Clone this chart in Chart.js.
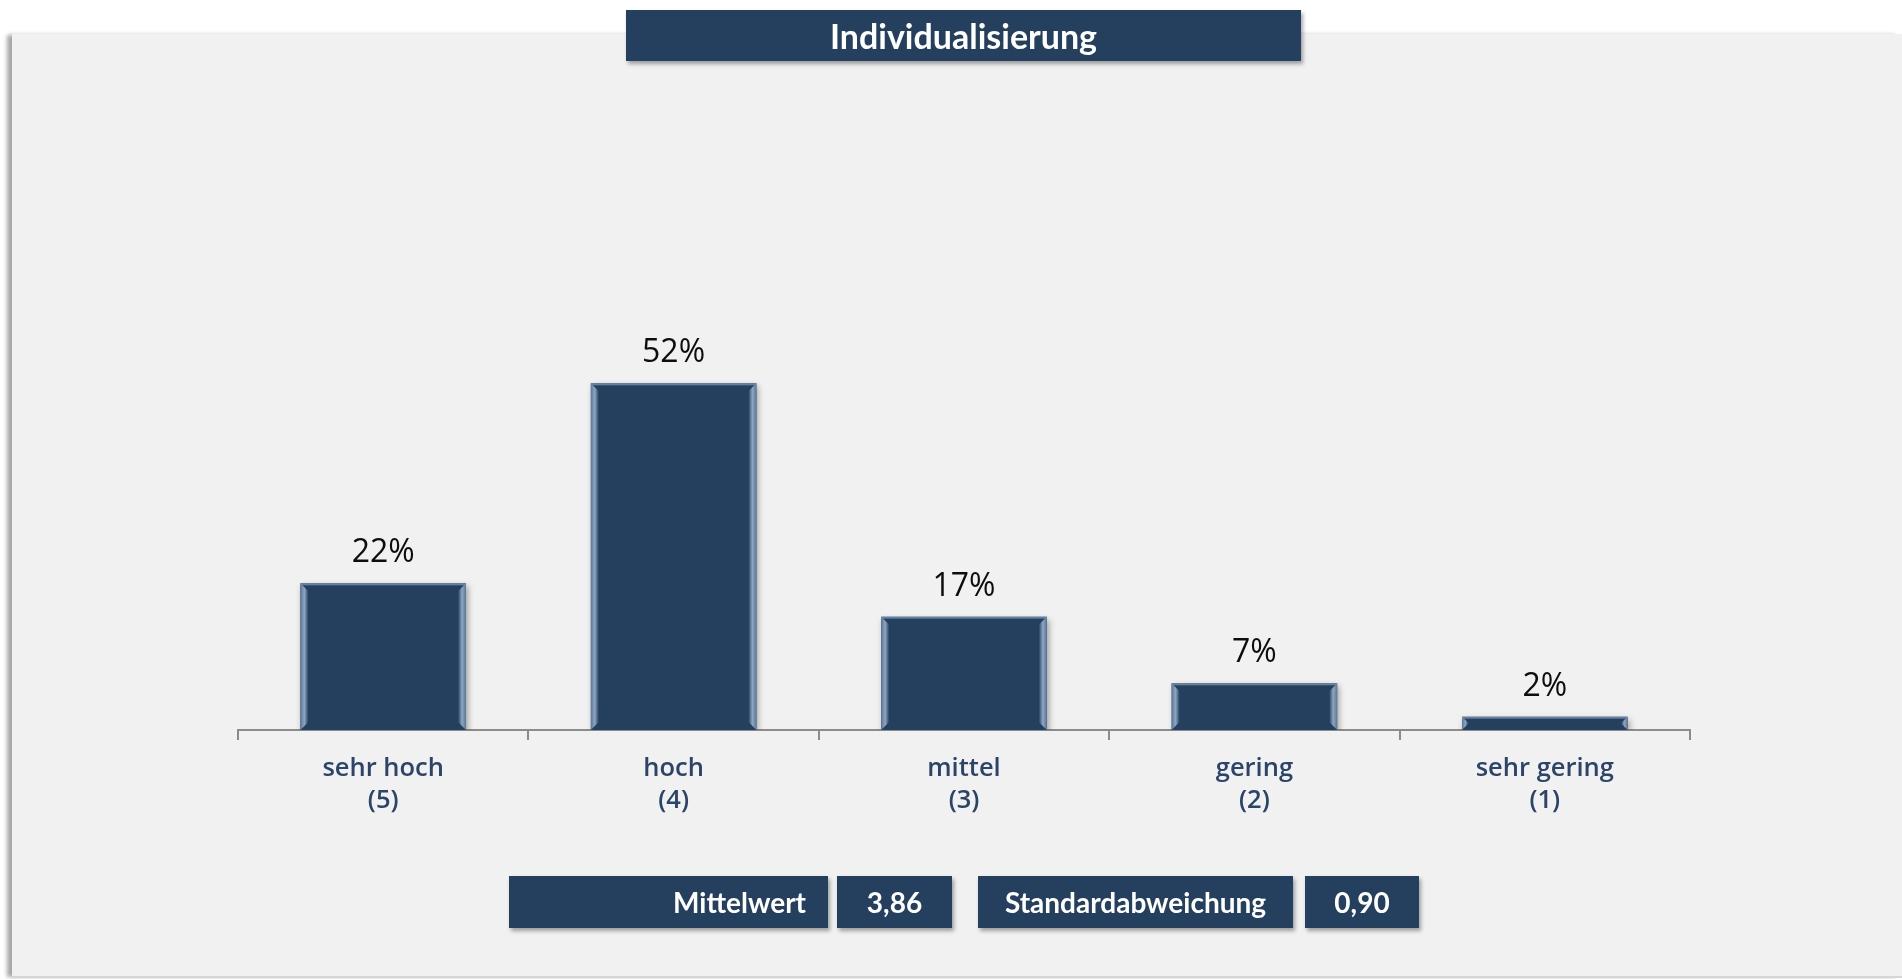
<!DOCTYPE html>
<html lang="de">
<head>
<meta charset="utf-8">
<title>Individualisierung</title>
<script src="https://cdn.jsdelivr.net/npm/chart.js@4"></script>
<style>
  html, body { margin: 0; padding: 0; background: #fff; width: 1902px; height: 979px; overflow: hidden; font-family: Lato, "Open Sans", sans-serif; }
  .panel {
    position: absolute; left: 12px; top: 34px; right: 0; height: 942px;
    background: #f1f1f1;
    border-bottom: 2px solid #d6d6d6;
    box-shadow: -6px 0 4px -1px #a8a8a8;
  }
  #chart { position: absolute; left: 0; top: 0; }
  .box {
    position: absolute; background: #253f5f; color: #fff;
    font-weight: bold; font-size: 28px; line-height: 52px; height: 52px;
    box-shadow: 2px 3px 4px rgba(0,0,0,0.35);
    box-sizing: border-box;
  }
  .title { left: 626px; top: 10px; width: 675px; height: 51px; line-height: 51px; text-align: center; font-size: 34px; }
</style>
</head>
<body>
<div class="panel"></div>
<canvas id="chart" width="1902" height="979"></canvas>
<div class="box title">Individualisierung</div>
<div class="box" style="left:509px;top:876px;width:319px;text-align:right;padding-right:22px;">Mittelwert</div>
<div class="box" style="left:837px;top:876px;width:115px;text-align:center;">3,86</div>
<div class="box" style="left:978px;top:876px;width:315px;text-align:center;">Standardabweichung</div>
<div class="box" style="left:1305px;top:876px;width:114px;text-align:center;">0,90</div>

<script>
// Answer distribution for "Individualisierung"
const categories = [
  ['sehr hoch', '(5)'],
  ['hoch', '(4)'],
  ['mittel', '(3)'],
  ['gering', '(2)'],
  ['sehr gering', '(1)']
];
const shares = [22, 52, 17, 7, 2];

const navy = '#253f5f';

// soft shadow under the bars
const barShadow = {
  id: 'barShadow',
  beforeDatasetDraw(chart) {
    const ctx = chart.ctx;
    ctx.save();
    ctx.shadowColor = 'rgba(0,0,0,0.35)';
    ctx.shadowBlur = 6;
    ctx.shadowOffsetX = 2;
    ctx.shadowOffsetY = 3;
  },
  afterDatasetDraw(chart) {
    chart.ctx.restore();
  }
};

// light bevel strips on both sides of each bar + value labels
const barDecor = {
  id: 'barDecor',
  afterDatasetsDraw(chart) {
    const ctx = chart.ctx;
    const meta = chart.getDatasetMeta(0);
    meta.data.forEach((bar, i) => {
      const left = bar.x - bar.width / 2;
      const right = bar.x + bar.width / 2;
      const top = bar.y;
      const bottom = bar.base;
      const h = bottom - top;
      const b = Math.min(8, h / 2);

      const gl = ctx.createLinearGradient(left, 0, left + b, 0);
      gl.addColorStop(0, '#5d7797');
      gl.addColorStop(0.5, '#8ea6c4');
      gl.addColorStop(1, navy);
      ctx.fillStyle = gl;
      ctx.beginPath();
      ctx.moveTo(left, top);
      ctx.lineTo(left + b, top + b);
      ctx.lineTo(left + b, bottom - b);
      ctx.lineTo(left, bottom);
      ctx.closePath();
      ctx.fill();

      const gr = ctx.createLinearGradient(right - b, 0, right, 0);
      gr.addColorStop(0, navy);
      gr.addColorStop(0.5, '#8ea6c4');
      gr.addColorStop(1, '#5d7797');
      ctx.fillStyle = gr;
      ctx.beginPath();
      ctx.moveTo(right, top);
      ctx.lineTo(right - b, top + b);
      ctx.lineTo(right - b, bottom - b);
      ctx.lineTo(right, bottom);
      ctx.closePath();
      ctx.fill();

      // thin top highlight
      ctx.fillStyle = 'rgba(120,145,176,0.8)';
      ctx.fillRect(left, top, bar.width, 2);

      ctx.fillStyle = '#0d0d0d';
      ctx.font = '500 32px "Open Sans", Lato, sans-serif';
      ctx.textAlign = 'center';
      ctx.textBaseline = 'bottom';
      ctx.fillText(shares[i] + '%', bar.x, top - 14);
    });
  }
};

new Chart(document.getElementById('chart'), {
  type: 'bar',
  data: {
    labels: categories,
    datasets: [{
      data: shares,
      backgroundColor: navy,
      borderWidth: 0,
      barPercentage: 0.57,
      categoryPercentage: 1
    }]
  },
  options: {
    responsive: false,
    animation: false,
    events: [],
    layout: { padding: { left: 238, right: 212, top: 330, bottom: 0 } },
    plugins: { legend: { display: false }, tooltip: { enabled: false } },
    scales: {
      x: {
        afterFit(scale) { scale.height = 249; },
        border: { display: true, color: '#8c8c8c', width: 2 },
        grid: { display: true, drawOnChartArea: false, drawTicks: true, tickLength: 10, color: '#8c8c8c', lineWidth: 2, offset: true },
        ticks: {
          color: '#2b4468',
          padding: 13,
          font: { family: '"Open Sans", Lato, sans-serif', size: 25.5, weight: '600', lineHeight: 1.26 }
        }
      },
      y: {
        display: false,
        min: 0,
        max: 60
      }
    }
  },
  plugins: [barShadow, barDecor]
});
</script>
</body>
</html>
